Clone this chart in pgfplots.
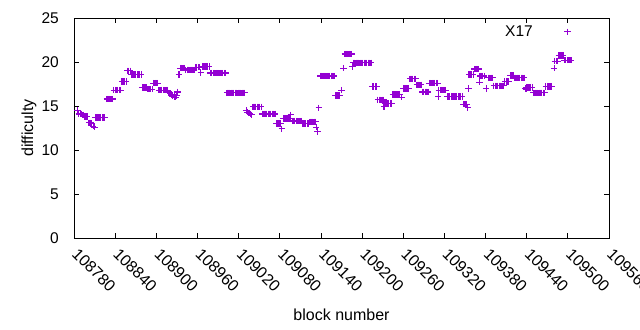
\documentclass[border=0pt]{standalone}
\usepackage{pgfplots}
\pgfplotsset{compat=1.18}
\usepackage{fontspec}
\setmainfont{Liberation Sans}
\definecolor{gpviolet}{HTML}{9400D3}
\begin{document}
\begin{tikzpicture}
\path[use as bounding box] (-74bp,-92bp) rectangle (566bp,238bp);
\begin{axis}[
  scale only axis, width=535bp, height=220bp,
  at={(0,0)}, anchor=south west,
  xmin=108780, xmax=109560, ymin=0, ymax=25,
  xtick={108780,108840,108900,108960,109020,109080,109140,109200,109260,109320,109380,109440,109500,109560},
  xticklabels={108780,108840,108900,108960,109020,109080,109140,109200,109260,109320,109380,109440,109500,109560},
  ytick={0,5,10,15,20,25},
  yticklabels={0,5,10,15,20,25},
  scaled x ticks=false,
  tick align=inside, major tick length=5bp,
  tick style={black, line width=0.8bp},
  axis line style={black, line width=0.8bp},
  font=\fontsize{15.5bp}{18bp}\selectfont,
  xticklabel style={anchor=west, inner sep=0pt, yshift=-13bp, xshift=1bp, rotate=-45, font=\fontsize{16bp}{18bp}\selectfont},
  yticklabel style={anchor=east, inner sep=0pt, xshift=-15bp},
  xlabel={block number}, ylabel={difficulty},
  xlabel style={at={(axis description cs:0.5,-0.35)}, anchor=center, font=\fontsize{16bp}{18bp}\selectfont},
  ylabel style={at={(axis description cs:-0.0841,0.5)}, anchor=center, font=\fontsize{16bp}{18bp}\selectfont},
  legend style={draw=none, fill=none, at={(rel axis cs:0.929,0.975)}, anchor=north east, inner sep=0pt, font=\fontsize{15.5bp}{18bp}\selectfont},
  legend plot pos=right, legend cell align=right,
  legend image code/.code={\path (0cm,0cm); \draw[#1] plot coordinates {(1.15cm,0cm)};},
  clip=false,
]
\addplot[only marks, gpviolet, mark=+, mark size=3.2bp, mark options={line width=1.2bp}] coordinates {
(108785,14.5)(108787,14.1)(108789,14.1)(108791,14.1)(108793,14.0)(108795,13.8)(108797,13.8)(108799,13.8)
(108802,13.1)(108804,13.1)(108806,13.0)(108808,12.7)(108810,12.6)
(108811,13.7)(108813,13.7)(108815,13.7)(108817,13.7)(108819,13.7)(108821,13.7)(108823,13.7)(108825,13.7)
(108828,15.8)(108830,15.8)(108832,15.8)(108834,15.8)(108836,15.8)
(108838,16.8)(108840,16.8)(108842,16.8)(108844,16.8)(108846,16.8)(108848,16.8)
(108850,17.8)(108852,17.8)(108854,17.8)(108856,17.8)
(108858,19.0)(108860,19.0)(108862,19.0)
(108864,18.6)(108866,18.6)(108868,18.6)(108870,18.6)(108872,18.6)(108874,18.6)(108876,18.6)(108878,18.6)
(108880,17.1)(108882,17.1)(108884,17.1)(108886,17.1)
(108888,16.9)(108890,16.9)(108892,16.9)(108894,16.9)
(108896,17.6)(108898,17.6)(108900,17.6)(108902,17.6)
(108904,16.8)(108906,16.8)(108908,16.8)(108910,16.8)(108912,16.8)(108914,16.8)(108916,16.8)
(108918,16.5)(108920,16.4)(108922,16.3)(108924,16.2)(108926,16.1)(108928,16.0)(108930,16.2)(108931,16.6)
(108933,18.6)
(108935,19.3)(108937,19.3)(108939,19.3)(108941,19.3)
(108943,19.1)(108945,19.1)(108947,19.1)(108949,19.1)(108951,19.1)(108953,19.1)(108955,19.1)
(108957,19.4)(108959,19.4)(108961,19.4)(108963,19.4)
(108965,18.8)
(108967,19.5)(108969,19.5)(108971,19.5)(108973,19.5)(108975,19.5)(108977,19.5)
(108979,18.75)(108981,18.75)(108983,18.75)(108985,18.75)(108987,18.75)(108989,18.75)(108991,18.75)(108993,18.75)(108995,18.75)(108997,18.75)(108999,18.75)(109001,18.75)
(109003,16.5)(109005,16.5)(109007,16.5)(109009,16.5)(109011,16.5)(109013,16.5)(109015,16.5)(109017,16.5)(109019,16.5)(109021,16.5)(109023,16.5)(109025,16.5)(109027,16.5)(109029,16.5)
(109031,14.5)(109033,14.3)(109035,14.2)(109037,14.1)(109039,14.0)
(109041,14.9)(109043,14.9)(109045,14.9)(109047,14.9)(109049,14.9)(109051,14.9)(109053,14.9)
(109055,14.1)(109057,14.1)(109059,14.1)(109061,14.1)(109063,14.1)(109065,14.1)(109067,14.1)(109069,14.1)(109071,14.1)(109073,14.1)
(109075,13.0)(109077,13.0)(109079,13.0)(109081,13.0)(109083,12.4)
(109085,13.6)(109087,13.6)(109089,13.6)(109091,13.6)(109093,13.6)(109095,13.6)(109096,14.0)
(109098,13.3)(109100,13.3)(109102,13.3)(109104,13.3)(109106,13.3)(109108,13.3)(109110,13.3)(109112,13.3)
(109114,13.0)(109116,13.0)(109118,13.0)(109120,13.0)(109122,13.0)
(109124,13.2)(109126,13.2)(109128,13.2)(109130,13.2)(109132,13.2)
(109133,12.6)(109135,12.1)(109137,14.8)
(109139,18.4)(109141,18.4)(109143,18.4)(109145,18.4)(109147,18.4)(109149,18.4)(109151,18.4)(109153,18.4)(109155,18.4)(109157,18.4)(109159,18.4)
(109161,16.2)(109163,16.2)(109165,16.2)(109167,16.2)(109170,16.8)
(109173,19.3)
(109175,20.9)(109177,20.9)(109179,20.9)(109181,20.9)(109183,20.9)(109185,20.9)
(109186,19.5)
(109187,19.9)(109189,19.9)(109191,19.9)(109193,19.9)(109195,19.9)(109197,19.9)(109199,19.9)(109201,19.9)(109203,19.9)(109205,19.9)(109207,19.9)(109209,19.9)(109211,19.9)(109213,19.9)
(109215,17.2)(109217,17.2)(109219,17.2)(109221,17.2)
(109223,15.7)(109225,15.7)(109227,15.7)(109229,15.7)(109231,15.7)
(109232,14.9)
(109233,15.3)(109235,15.3)(109237,15.3)(109239,15.3)(109241,15.3)(109243,15.3)
(109245,16.3)(109247,16.3)(109249,16.3)(109251,16.3)(109253,16.3)(109255,16.3)
(109258,16.0)
(109260,17.0)(109262,17.0)(109264,17.0)(109266,17.0)(109268,17.0)
(109270,18.1)(109272,18.1)(109274,18.1)(109276,18.1)(109278,18.1)
(109280,17.4)(109282,17.4)(109284,17.4)(109286,17.4)
(109288,16.6)(109290,16.6)(109292,16.6)(109294,16.6)(109296,16.6)
(109298,17.6)(109300,17.6)(109302,17.6)(109304,17.6)(109306,17.6)(109308,17.6)(109310,17.6)
(109311,16.1)
(109312,16.8)(109314,16.8)(109316,16.8)(109318,16.8)(109320,16.8)(109322,16.8)
(109324,16.1)(109326,16.1)(109328,16.1)(109330,16.1)(109332,16.1)(109334,16.1)(109336,16.1)(109338,16.1)(109340,16.1)(109342,16.1)(109344,16.1)(109346,16.1)
(109348,15.2)(109350,15.2)(109352,15.2)(109354,14.8)
(109355,17.0)
(109356,18.6)(109358,18.6)(109360,18.6)(109362,18.6)
(109364,19.2)(109366,19.2)(109368,19.2)(109370,19.2)
(109371,17.7)
(109372,18.4)(109374,18.4)(109376,18.4)(109378,18.4)
(109381,17.0)
(109384,18.2)(109386,18.2)(109388,18.2)(109390,18.2)
(109392,17.3)(109394,17.3)(109396,17.3)(109398,17.3)(109400,17.3)(109402,17.3)(109404,17.3)(109406,17.3)
(109408,17.8)(109410,17.8)(109412,17.8)(109414,17.8)
(109416,18.45)(109418,18.45)(109420,18.45)
(109422,18.2)(109424,18.2)(109426,18.2)(109428,18.2)(109430,18.2)(109432,18.2)(109434,18.2)(109436,18.2)
(109438,17.0)(109439,16.9)
(109440,17.1)(109442,17.1)(109444,17.1)(109446,17.1)(109448,17.1)
(109450,16.5)(109452,16.5)(109454,16.5)(109456,16.5)(109458,16.5)(109460,16.5)(109462,16.5)(109464,16.5)(109466,16.5)
(109468,17.2)(109470,17.2)(109472,17.2)(109474,17.2)(109476,17.2)
(109480,19.3)
(109481,20.1)(109483,20.1)(109485,20.1)
(109487,20.75)(109489,20.75)(109491,20.75)(109493,20.75)
(109495,20.2)(109497,20.2)(109499,20.2)(109501,20.2)(109503,20.2)(109505,20.2)
};
\addlegendentry{X17}
\end{axis}
\end{tikzpicture}
\end{document}
